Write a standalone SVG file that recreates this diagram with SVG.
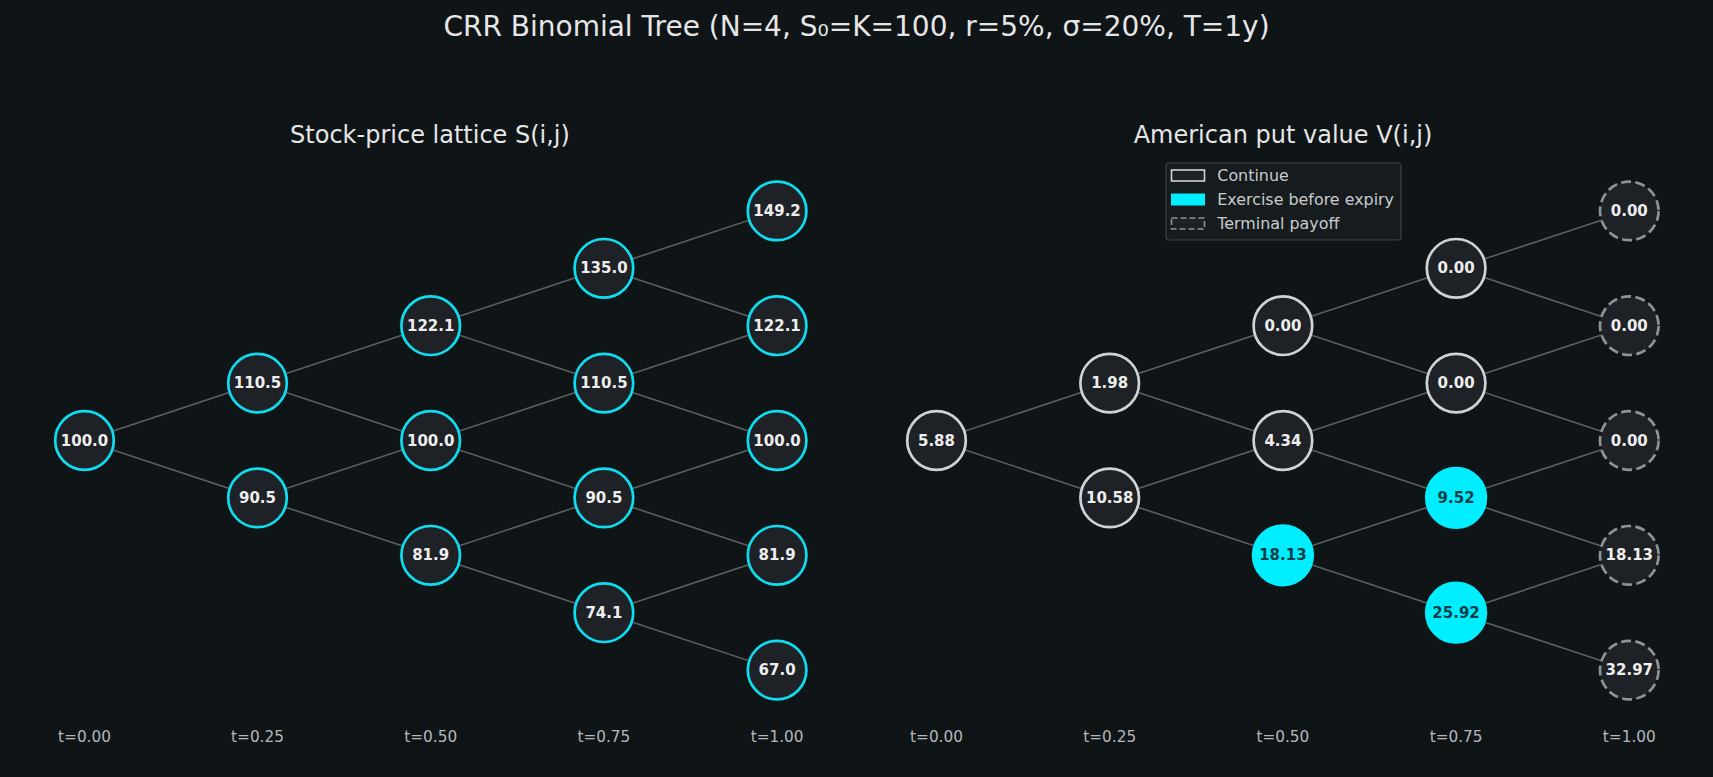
<svg xmlns="http://www.w3.org/2000/svg" width="1713" height="777" viewBox="0 0 1713 777">
<style>
.bg{fill:#0f1416}
.ttl{font-family:"DejaVu Sans",sans-serif;fill:#e6e6e6;text-anchor:middle}
.edge{stroke:#5a5f62;stroke-width:1.6;fill:none}
.n{fill:#1e2226;stroke-width:2.7}
.s{stroke:#0fdcee}
.c{stroke:#d0d3d6}
.x{fill:#00eeff;stroke:#00eeff}
.tm{stroke:#8e9396;stroke-dasharray:10 4.4}
.lbl{font-family:"DejaVu Sans",sans-serif;font-weight:bold;font-size:15px;fill:#eeeeee;text-anchor:middle;dominant-baseline:central}
.dk{fill:#0d3f47}
.tk{font-family:"DejaVu Sans",sans-serif;font-size:15.3px;fill:#b4b8bb;text-anchor:middle}
.lg{font-family:"DejaVu Sans",sans-serif;font-size:15.9px;fill:#c8cbce;dominant-baseline:central}
</style>
<rect class="bg" x="0" y="0" width="1713" height="777"/>
<text class="ttl" x="856.5" y="36" font-size="28">CRR Binomial Tree (N=4, S₀=K=100, r=5%, σ=20%, T=1y)</text>
<text class="ttl" x="430" y="143" font-size="24">Stock-price lattice S(i,j)</text>
<text class="ttl" x="1283" y="143" font-size="24">American put value V(i,j)</text>

<g id="connectors">
<g id="left-edges">
<line class="edge" x1="84.5" y1="440.5" x2="257.5" y2="383.1"/>
<line class="edge" x1="84.5" y1="440.5" x2="257.5" y2="497.9"/>
<line class="edge" x1="257.5" y1="383.1" x2="430.7" y2="325.7"/>
<line class="edge" x1="257.5" y1="383.1" x2="430.7" y2="440.5"/>
<line class="edge" x1="257.5" y1="497.9" x2="430.7" y2="440.5"/>
<line class="edge" x1="257.5" y1="497.9" x2="430.7" y2="555.3"/>
<line class="edge" x1="430.7" y1="325.7" x2="603.9" y2="268.3"/>
<line class="edge" x1="430.7" y1="325.7" x2="603.9" y2="383.1"/>
<line class="edge" x1="430.7" y1="440.5" x2="603.9" y2="383.1"/>
<line class="edge" x1="430.7" y1="440.5" x2="603.9" y2="497.9"/>
<line class="edge" x1="430.7" y1="555.3" x2="603.9" y2="497.9"/>
<line class="edge" x1="430.7" y1="555.3" x2="603.9" y2="612.7"/>
<line class="edge" x1="603.9" y1="268.3" x2="777.1" y2="210.9"/>
<line class="edge" x1="603.9" y1="268.3" x2="777.1" y2="325.7"/>
<line class="edge" x1="603.9" y1="383.1" x2="777.1" y2="325.7"/>
<line class="edge" x1="603.9" y1="383.1" x2="777.1" y2="440.5"/>
<line class="edge" x1="603.9" y1="497.9" x2="777.1" y2="440.5"/>
<line class="edge" x1="603.9" y1="497.9" x2="777.1" y2="555.3"/>
<line class="edge" x1="603.9" y1="612.7" x2="777.1" y2="555.3"/>
<line class="edge" x1="603.9" y1="612.7" x2="777.1" y2="670.1"/>
</g>
<g id="right-edges">
<line class="edge" x1="936.5" y1="440.5" x2="1109.7" y2="383.1"/>
<line class="edge" x1="936.5" y1="440.5" x2="1109.7" y2="497.9"/>
<line class="edge" x1="1109.7" y1="383.1" x2="1282.9" y2="325.7"/>
<line class="edge" x1="1109.7" y1="383.1" x2="1282.9" y2="440.5"/>
<line class="edge" x1="1109.7" y1="497.9" x2="1282.9" y2="440.5"/>
<line class="edge" x1="1109.7" y1="497.9" x2="1282.9" y2="555.3"/>
<line class="edge" x1="1282.9" y1="325.7" x2="1456.1" y2="268.3"/>
<line class="edge" x1="1282.9" y1="325.7" x2="1456.1" y2="383.1"/>
<line class="edge" x1="1282.9" y1="440.5" x2="1456.1" y2="383.1"/>
<line class="edge" x1="1282.9" y1="440.5" x2="1456.1" y2="497.9"/>
<line class="edge" x1="1282.9" y1="555.3" x2="1456.1" y2="497.9"/>
<line class="edge" x1="1282.9" y1="555.3" x2="1456.1" y2="612.7"/>
<line class="edge" x1="1456.1" y1="268.3" x2="1629.3" y2="210.9"/>
<line class="edge" x1="1456.1" y1="268.3" x2="1629.3" y2="325.7"/>
<line class="edge" x1="1456.1" y1="383.1" x2="1629.3" y2="325.7"/>
<line class="edge" x1="1456.1" y1="383.1" x2="1629.3" y2="440.5"/>
<line class="edge" x1="1456.1" y1="497.9" x2="1629.3" y2="440.5"/>
<line class="edge" x1="1456.1" y1="497.9" x2="1629.3" y2="555.3"/>
<line class="edge" x1="1456.1" y1="612.7" x2="1629.3" y2="555.3"/>
<line class="edge" x1="1456.1" y1="612.7" x2="1629.3" y2="670.1"/>
</g>
</g>

<!-- Left stock lattice -->
<g id="S-0-0"><circle class="n s" cx="84.5" cy="440.5" r="29.3"/><text class="lbl" x="84.5" y="440.5">100.0</text></g>
<g id="S-1-0"><circle class="n s" cx="257.5" cy="497.9" r="29.3"/><text class="lbl" x="257.5" y="497.9">90.5</text></g>
<g id="S-1-1"><circle class="n s" cx="257.5" cy="383.1" r="29.3"/><text class="lbl" x="257.5" y="383.1">110.5</text></g>
<g id="S-2-0"><circle class="n s" cx="430.7" cy="555.3" r="29.3"/><text class="lbl" x="430.7" y="555.3">81.9</text></g>
<g id="S-2-1"><circle class="n s" cx="430.7" cy="440.5" r="29.3"/><text class="lbl" x="430.7" y="440.5">100.0</text></g>
<g id="S-2-2"><circle class="n s" cx="430.7" cy="325.7" r="29.3"/><text class="lbl" x="430.7" y="325.7">122.1</text></g>
<g id="S-3-0"><circle class="n s" cx="603.9" cy="612.7" r="29.3"/><text class="lbl" x="603.9" y="612.7">74.1</text></g>
<g id="S-3-1"><circle class="n s" cx="603.9" cy="497.9" r="29.3"/><text class="lbl" x="603.9" y="497.9">90.5</text></g>
<g id="S-3-2"><circle class="n s" cx="603.9" cy="383.1" r="29.3"/><text class="lbl" x="603.9" y="383.1">110.5</text></g>
<g id="S-3-3"><circle class="n s" cx="603.9" cy="268.3" r="29.3"/><text class="lbl" x="603.9" y="268.3">135.0</text></g>
<g id="S-4-0"><circle class="n s" cx="777.1" cy="670.1" r="29.3"/><text class="lbl" x="777.1" y="670.1">67.0</text></g>
<g id="S-4-1"><circle class="n s" cx="777.1" cy="555.3" r="29.3"/><text class="lbl" x="777.1" y="555.3">81.9</text></g>
<g id="S-4-2"><circle class="n s" cx="777.1" cy="440.5" r="29.3"/><text class="lbl" x="777.1" y="440.5">100.0</text></g>
<g id="S-4-3"><circle class="n s" cx="777.1" cy="325.7" r="29.3"/><text class="lbl" x="777.1" y="325.7">122.1</text></g>
<g id="S-4-4"><circle class="n s" cx="777.1" cy="210.9" r="29.3"/><text class="lbl" x="777.1" y="210.9">149.2</text></g>

<!-- Right value lattice -->
<g id="V-0-0"><circle class="n c" cx="936.5" cy="440.5" r="29.3"/><text class="lbl" x="936.5" y="440.5">5.88</text></g>
<g id="V-1-0"><circle class="n c" cx="1109.7" cy="497.9" r="29.3"/><text class="lbl" x="1109.7" y="497.9">10.58</text></g>
<g id="V-1-1"><circle class="n c" cx="1109.7" cy="383.1" r="29.3"/><text class="lbl" x="1109.7" y="383.1">1.98</text></g>
<g id="V-2-0"><circle class="n x" cx="1282.9" cy="555.3" r="29.8"/><text class="lbl dk" x="1282.9" y="555.3">18.13</text></g>
<g id="V-2-1"><circle class="n c" cx="1282.9" cy="440.5" r="29.3"/><text class="lbl" x="1282.9" y="440.5">4.34</text></g>
<g id="V-2-2"><circle class="n c" cx="1282.9" cy="325.7" r="29.3"/><text class="lbl" x="1282.9" y="325.7">0.00</text></g>
<g id="V-3-0"><circle class="n x" cx="1456.1" cy="612.7" r="29.8"/><text class="lbl dk" x="1456.1" y="612.7">25.92</text></g>
<g id="V-3-1"><circle class="n x" cx="1456.1" cy="497.9" r="29.8"/><text class="lbl dk" x="1456.1" y="497.9">9.52</text></g>
<g id="V-3-2"><circle class="n c" cx="1456.1" cy="383.1" r="29.3"/><text class="lbl" x="1456.1" y="383.1">0.00</text></g>
<g id="V-3-3"><circle class="n c" cx="1456.1" cy="268.3" r="29.3"/><text class="lbl" x="1456.1" y="268.3">0.00</text></g>
<g id="V-4-0"><circle class="n tm" cx="1629.3" cy="670.1" r="29.3"/><text class="lbl" x="1629.3" y="670.1">32.97</text></g>
<g id="V-4-1"><circle class="n tm" cx="1629.3" cy="555.3" r="29.3"/><text class="lbl" x="1629.3" y="555.3">18.13</text></g>
<g id="V-4-2"><circle class="n tm" cx="1629.3" cy="440.5" r="29.3"/><text class="lbl" x="1629.3" y="440.5">0.00</text></g>
<g id="V-4-3"><circle class="n tm" cx="1629.3" cy="325.7" r="29.3"/><text class="lbl" x="1629.3" y="325.7">0.00</text></g>
<g id="V-4-4"><circle class="n tm" cx="1629.3" cy="210.9" r="29.3"/><text class="lbl" x="1629.3" y="210.9">0.00</text></g>

<g id="time-labels">
<text class="tk" x="84.5" y="741.5">t=0.00</text>
<text class="tk" x="257.5" y="741.5">t=0.25</text>
<text class="tk" x="430.7" y="741.5">t=0.50</text>
<text class="tk" x="603.9" y="741.5">t=0.75</text>
<text class="tk" x="777.1" y="741.5">t=1.00</text>
<text class="tk" x="936.5" y="741.5">t=0.00</text>
<text class="tk" x="1109.7" y="741.5">t=0.25</text>
<text class="tk" x="1282.9" y="741.5">t=0.50</text>
<text class="tk" x="1456.1" y="741.5">t=0.75</text>
<text class="tk" x="1629.3" y="741.5">t=1.00</text>
</g>

<g id="legend">
<rect x="1166" y="163" width="235" height="77" rx="3" fill="#161b1d" stroke="#3c4245" stroke-width="1.2"/>
<rect x="1171.5" y="170" width="33" height="11" fill="#1d2125" stroke="#d0d3d6" stroke-width="1.6"/>
<text class="lg" x="1217.3" y="175.7">Continue</text>
<rect x="1171" y="193.5" width="34" height="12" fill="#00eeff"/>
<text class="lg" x="1217.3" y="199.3">Exercise before expiry</text>
<rect x="1171.5" y="218" width="33" height="11" fill="#1d2125" stroke="#8e9396" stroke-width="1.6" stroke-dasharray="6 3"/>
<text class="lg" x="1217.3" y="223.3">Terminal payoff</text>
</g>
</svg>
